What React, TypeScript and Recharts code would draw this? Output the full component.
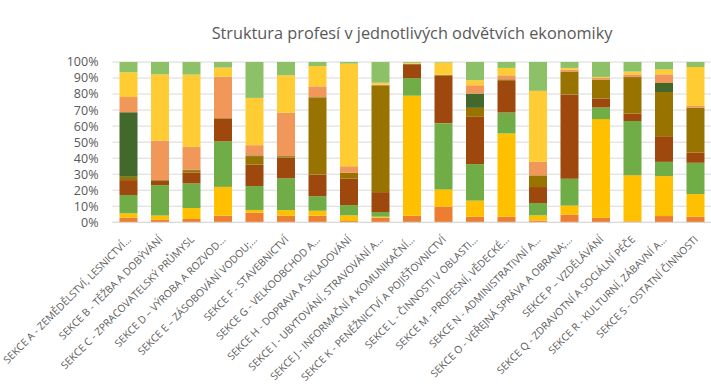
import React from "react";
import { BarChart, Bar, XAxis, YAxis, CartesianGrid } from "recharts";

const categories = [
  "SEKCE A - ZEMĚDĚLSTVÍ, LESNICTVÍ...",
  "SEKCE B - TĚŽBA A DOBÝVÁNÍ",
  "SEKCE C - ZPRACOVATELSKÝ PRŮMYSL",
  "SEKCE D – VÝROBA A ROZVOD...",
  "SEKCE E – ZÁSOBOVÁNÍ VODOU;...",
  "SEKCE F - STAVEBNICTVÍ",
  "SEKCE G - VELKOOBCHOD A...",
  "SEKCE H - DOPRAVA A SKLADOVÁNÍ",
  "SEKCE I - UBYTOVÁNÍ, STRAVOVÁNÍ A...",
  "SEKCE J - INFORMAČNÍ A KOMUNIKAČNÍ...",
  "SEKCE K - PENĚŽNICTVÍ A POJIŠŤOVNICTVÍ",
  "SEKCE L - ČINNOSTI V OBLASTI...",
  "SEKCE M - PROFESNÍ, VĚDECKÉ...",
  "SEKCE N - ADMINISTRATIVNÍ A...",
  "SEKCE O - VEŘEJNÁ SPRÁVA A OBRANA;...",
  "SEKCE P – VZDĚLÁVÁNÍ",
  "SEKCE Q - ZDRAVOTNÍ A SOCIÁLNÍ PÉČE",
  "SEKCE R - KULTURNÍ, ZÁBAVNÍ A...",
  "SEKCE S - OSTATNÍ ČINNOSTI",
];

const seriesNames = [
  "Zákonodárci a řídící pracovníci",
  "Specialisté",
  "Techničtí a odborní pracovníci",
  "Úředníci",
  "Pracovníci ve službách a prodeji",
  "Kvalifikovaní pracovníci v zemědělství",
  "Řemeslníci a opraváři",
  "Obsluha strojů a zařízení",
  "Pomocní a nekvalifikovaní pracovníci",
];

const s1 = [2.9, 1.5, 2.1, 4.1, 6.0, 4.1, 4.1, 0.8, 2.9, 4.1, 9.8, 3.5, 3.5, 1.0, 4.8, 2.9, 0.6, 3.9, 3.5];
const s2 = [2.7, 2.7, 6.8, 18.0, 1.7, 3.5, 3.1, 3.5, 0.6, 75.1, 10.8, 10.0, 51.9, 3.3, 5.6, 61.4, 28.8, 24.9, 14.1];
const s3 = [11.4, 19.1, 15.4, 28.4, 14.9, 19.9, 9.1, 6.4, 2.9, 11.0, 41.5, 22.8, 13.1, 7.7, 16.8, 7.3, 33.8, 8.9, 19.5];
const s4 = [9.3, 2.9, 6.8, 14.3, 13.5, 12.9, 13.5, 16.6, 12.4, 8.7, 29.7, 29.5, 19.7, 10.0, 52.5, 5.6, 4.6, 16.0, 6.4];
const s5 = [2.1, 0.3, 1.5, 0.2, 5.2, 0.8, 48.1, 3.5, 66.6, 0.2, 0.6, 5.6, 1.0, 7.3, 14.3, 11.8, 22.8, 27.6, 28.0];
const s6 = [40.2, 0, 0.2, 0, 0.4, 0.2, 0.2, 0, 0, 0, 0, 8.9, 0, 0, 0, 0, 0, 5.6, 0];
const s7 = [9.5, 24.5, 14.5, 25.7, 6.4, 27.0, 6.8, 4.1, 0.4, 0.2, 0, 5.2, 2.5, 8.5, 1.2, 1.0, 1.7, 5.4, 1.0];
const s8 = [15.4, 41.7, 45.0, 5.8, 29.5, 23.4, 12.7, 63.9, 1.2, 0.5, 7.7, 3.1, 4.6, 44.2, 1.0, 0.6, 1.7, 3.1, 24.3];
const s9 = [6.4, 7.7, 7.9, 3.5, 22.4, 8.3, 2.5, 1.0, 12.9, 0.5, 0.3, 11.4, 3.7, 18.0, 3.7, 9.3, 6.0, 4.6, 3.1];

const seriesValues = [s1, s2, s3, s4, s5, s6, s7, s8, s9];
const colors = ["#ED7D31", "#FFC000", "#70AD47", "#9E480E", "#997300", "#43682B", "#F1975A", "#FFCD33", "#8CC168"];
const yTicks = [0, 0.1, 0.2, 0.3, 0.4, 0.5, 0.6, 0.7, 0.8, 0.9, 1];

const data = categories.map((c, i) => {
  const row: any = { name: c };
  seriesNames.forEach((s, j) => {
    row[s] = seriesValues[j][i];
  });
  return row;
});

const FONT = "'Open Sans', sans-serif";

const XTick = (props: any) => {
  const { x, y, payload } = props;
  const tx = x + 3.5;
  const ty = y + 18;
  return (
    <text
      x={tx}
      y={ty}
      transform={`rotate(-45, ${tx}, ${ty})`}
      textAnchor="end"
      fontSize={10.3}
      fontFamily={FONT}
      fill="#595959"
    >
      {payload.value}
    </text>
  );
};

export default function App() {
  return (
    <div style={{ position: "absolute", left: 0, top: 0, width: 711, height: 388, background: "#fff" }}>
      <BarChart
        width={711}
        height={388}
        data={data}
        stackOffset="expand"
        margin={{ top: 62, right: 0, left: 0, bottom: 0 }}
        barSize={18}
      >
        <text
          x={412}
          y={38.5}
          textAnchor="middle"
          fontSize={16.3}
          fontFamily={FONT}
          fill="#595959"
        >
          Struktura profesí v jednotlivých odvětvích ekonomiky
        </text>
        <CartesianGrid vertical={false} stroke="#D9D9D9" />
        <XAxis
          dataKey="name"
          interval={0}
          height={165.7}
          tickLine={false}
          tickSize={0}
          tickMargin={0}
          axisLine={{ stroke: "#D9D9D9" }}
          tick={<XTick />}
        />
        <YAxis
          width={112.5}
          ticks={yTicks}
          interval={0}
          domain={[0, 1]}
          tickFormatter={(v: number) => `${Math.round(v * 100)}%`}
          tickLine={false}
          axisLine={false}
          tickSize={0}
          tickMargin={14}
          tick={{ fontSize: 12.5, fontFamily: FONT, fill: "#595959" }}
        />
        {seriesNames.map((s, j) => (
          <Bar key={s} dataKey={s} stackId="a" fill={colors[j]} isAnimationActive={false} />
        ))}
      </BarChart>
    </div>
  );
}
